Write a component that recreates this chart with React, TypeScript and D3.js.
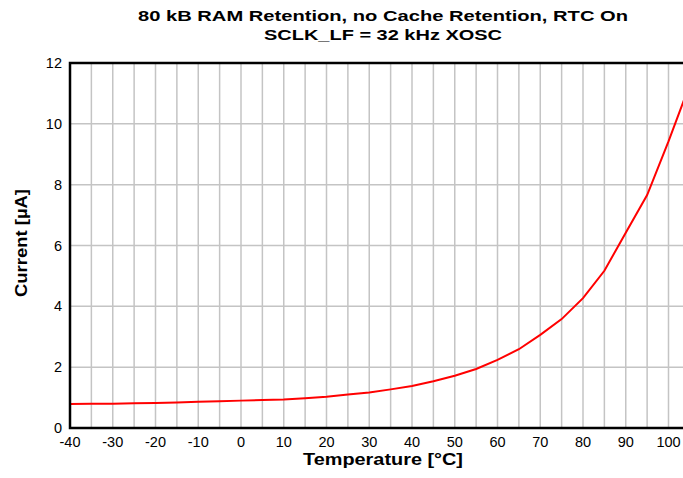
import React, { useRef, useEffect } from "react";
import * as d3 from "d3";

const width = 683;
const height = 478;

// temperature in °C, current in µA
const temps = [-40, -35, -30, -25, -20, -15, -10, -5, 0, 5, 10, 15, 20, 25, 30, 35, 40, 45, 50, 55, 60, 65, 70, 75, 80, 85, 90, 95, 100, 105];
const current = [0.79, 0.8, 0.8, 0.81, 0.82, 0.84, 0.86, 0.88, 0.9, 0.92, 0.94, 0.98, 1.03, 1.1, 1.17, 1.27, 1.38, 1.54, 1.72, 1.94, 2.24, 2.59, 3.06, 3.58, 4.27, 5.17, 6.42, 7.66, 9.42, 11.3];

const xTicks = [-40, -30, -20, -10, 0, 10, 20, 30, 40, 50, 60, 70, 80, 90, 100];
const yTicks = [0, 2, 4, 6, 8, 10, 12];
const titleLines = ["80 kB RAM Retention, no Cache Retention, RTC On", "SCLK_LF = 32 kHz XOSC"];

export default function App() {
  const svgRef = useRef<SVGSVGElement>(null);

  useEffect(() => {
    if (!svgRef.current) return;
    const svg = d3.select(svgRef.current);
    svg.selectAll("*").remove();

    const left = 70, top = 63, bottom = 428;
    const x = d3.scaleLinear().domain([-40, 110]).range([left, left + 150 * 4.275]);
    const y = d3.scaleLinear().domain([0, 12]).range([bottom, top]);
    const right = x(110);
    const font = "Liberation Sans, Arial, sans-serif";

    const grid = svg.append("g").attr("stroke", "#c4c4c4").attr("stroke-width", 1.5);
    grid.selectAll("line.v")
      .data(d3.range(-35, 110, 5))
      .join("line")
      .attr("x1", d => x(d)).attr("x2", d => x(d))
      .attr("y1", top).attr("y2", bottom);
    grid.selectAll("line.h")
      .data(yTicks.slice(1, -1))
      .join("line")
      .attr("x1", left).attr("x2", right)
      .attr("y1", d => y(d)).attr("y2", d => y(d));

    const line = d3.line<number>()
      .x((_, i) => x(temps[i]))
      .y(d => y(d));

    svg.append("path")
      .datum(current)
      .attr("d", line)
      .attr("fill", "none")
      .attr("stroke", "#ff0000")
      .attr("stroke-width", 2);

    // frame
    svg.append("path")
      .attr("d", `M${right},${top}H${left}V${bottom}H${right}`)
      .attr("fill", "none")
      .attr("stroke", "#000")
      .attr("stroke-width", 2.5);

    svg.append("g")
      .selectAll("text")
      .data(xTicks)
      .join("text")
      .attr("x", d => x(d))
      .attr("y", 447)
      .attr("text-anchor", "middle")
      .style("font-family", font)
      .style("font-size", "14.5px")
      .text(d => d);

    svg.append("g")
      .selectAll("text")
      .data(yTicks)
      .join("text")
      .attr("x", 62)
      .attr("y", d => y(d))
      .attr("dy", "0.35em")
      .attr("text-anchor", "end")
      .style("font-family", font)
      .style("font-size", "14.5px")
      .text(d => d);

    svg.append("text")
      .attr("x", 383)
      .attr("y", 465)
      .attr("text-anchor", "middle")
      .attr("textLength", 160)
      .attr("lengthAdjust", "spacingAndGlyphs")
      .style("font-family", font)
      .style("font-size", "17px")
      .style("font-weight", "bold")
      .text("Temperature [°C]");

    svg.append("text")
      .attr("transform", `translate(27,243) rotate(-90)`)
      .attr("text-anchor", "middle")
      .attr("textLength", 108)
      .attr("lengthAdjust", "spacingAndGlyphs")
      .style("font-family", font)
      .style("font-size", "17px")
      .style("font-weight", "bold")
      .text("Current [µA]");

    const titleW = [490, 238];
    svg.append("g")
      .selectAll("text")
      .data(titleLines)
      .join("text")
      .attr("x", 383)
      .attr("y", (_, i) => 21 + i * 19)
      .attr("text-anchor", "middle")
      .attr("textLength", (_, i) => titleW[i])
      .attr("lengthAdjust", "spacingAndGlyphs")
      .style("font-family", font)
      .style("font-size", "15.5px")
      .style("font-weight", "bold")
      .text(d => d);
  }, []);

  return (
    <svg
      ref={svgRef}
      width={width}
      height={height}
      style={{ position: "absolute", left: 0, top: 0, background: "#fff" }}
    />
  );
}
